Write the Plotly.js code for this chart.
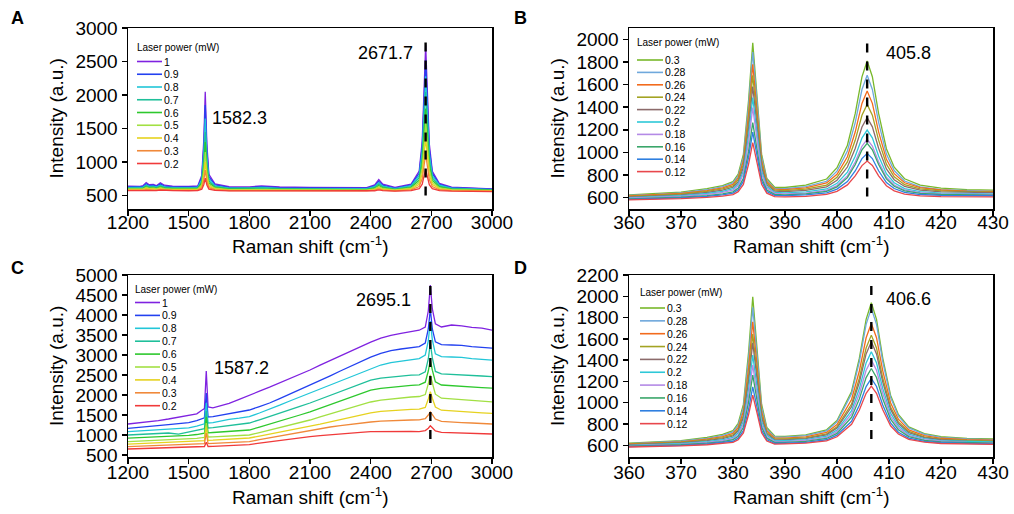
<!DOCTYPE html>
<html><head><meta charset="utf-8">
<script src="https://cdn.plot.ly/plotly-3.0.1.min.js"></script>
<style>html,body{margin:0;padding:0;background:#fff}#chart{width:1014px;height:514px}</style>
</head><body><div id="chart"></div>
<script>
// ---------------- DATA ----------------
const powersAC = ['1','0.9','0.8','0.7','0.6','0.5','0.4','0.3','0.2'];
const powersBD = ['0.3','0.28','0.26','0.24','0.22','0.2','0.18','0.16','0.14','0.12'];
const peakLabelsA = ['1582.3','2671.7'];
const peakLabelsB = ['405.8'];
const peakLabelsC = ['1587.2','2695.1'];
const peakLabelsD = ['406.6'];
const dashXA = 2671.7, dashXB = 405.8, dashXC = 2695.1, dashXD = 406.6;
const xTitle = 'Raman shift (cm<sup>-1</sup>)';
const yTitle = 'Intensity (a.u.)';
const legendTitle = 'Laser power (mW)';

const ticksXAC = [1200,1500,1800,2100,2400,2700,3000];
const ticksYA = [500,1000,1500,2000,2500,3000];
const ticksYC = [500,1000,1500,2000,2500,3000,3500,4000,4500,5000];
const ticksXBD = [360,370,380,390,400,410,420,430];
const ticksYB = [600,800,1000,1200,1400,1600,1800,2000];
const ticksYD = [600,800,1000,1200,1400,1600,1800,2000,2200];

// Panel A
const xA = [1200,1260,1275,1290,1305,1325,1340,1360,1380,1420,1500,1545,1565,1575,1582,1590,1600,1630,1700,1800,1860,1950,2100,2250,2380,2420,2440,2460,2520,2600,2640,2655,2665,2672,2680,2690,2705,2740,2800,2900,3000];
const A_1  = [640,638,650,695,662,668,648,690,655,640,636,645,802,1341,2050,1270,816,675,632,630,645,628,622,618,620,660,738,670,622,671,865,1314,2214,2750,2086,1271,863,681,626,608,600];
const A_09 = [630,628,638,675,650,655,638,672,642,629,626,634,769,1236,1850,1175,782,659,622,620,632,618,613,610,612,645,712,655,613,660,832,1234,2040,2520,1925,1196,831,668,619,602,595];
const A_08 = [620,618,627,658,637,641,627,655,630,619,616,623,737,1131,1650,1080,748,644,612,611,622,609,605,602,603,633,690,641,604,648,798,1152,1859,2280,1758,1118,798,655,612,596,590];
const A_07 = [615,613,620,648,630,633,620,645,623,613,610,616,709,1029,1450,987,717,633,606,605,615,603,599,596,597,623,672,630,598,635,765,1072,1685,2050,1597,1043,765,641,604,590,585];
const A_06 = [605,603,609,632,617,620,609,630,612,603,600,606,684,950,1300,915,691,621,597,596,604,594,591,588,589,610,650,617,590,622,731,986,1496,1800,1423,962,731,628,597,585,580];
const A_05 = [598,596,601,620,608,610,601,618,603,596,593,598,660,871,1150,844,665,610,590,589,596,588,585,582,583,600,633,606,584,610,699,909,1330,1580,1270,889,699,614,589,579,575];
const A_04 = [590,588,592,607,598,600,592,605,594,588,586,590,636,793,1000,772,640,598,583,582,588,581,578,576,577,590,616,594,578,598,667,830,1156,1350,1109,815,667,601,581,573,570];
const A_03 = [582,580,583,594,588,589,583,592,585,580,578,581,615,729,880,714,618,588,576,575,580,574,572,570,570,580,599,583,571,585,634,750,982,1120,949,739,634,587,573,567,565];
const A_02 = [575,573,575,582,578,579,575,581,576,573,572,574,595,666,760,657,596,578,570,569,572,568,567,565,565,572,585,574,566,573,602,671,808,890,789,664,602,574,566,562,560];

// Panel C
const xC = [1200,1250,1300,1350,1400,1450,1500,1540,1565,1578,1587,1596,1620,1660,1700,1750,1800,1850,1900,1950,2000,2050,2100,2150,2200,2250,2300,2350,2400,2450,2500,2550,2600,2640,2670,2685,2695,2705,2720,2750,2800,2850,2900,2950,3000];
const C_1  = [1275,1300,1335,1360,1400,1440,1480,1530,1620,1660,2600,1700,1680,1730,1790,1890,2000,2095,2195,2300,2405,2515,2625,2745,2860,2980,3100,3210,3320,3420,3490,3540,3585,3620,3700,4100,4750,4150,3780,3700,3750,3730,3690,3670,3620];
const C_09 = [1165,1185,1210,1235,1260,1285,1310,1360,1410,1430,2050,1450,1460,1500,1540,1580,1625,1710,1800,1910,2020,2135,2250,2365,2480,2600,2720,2830,2945,3040,3110,3150,3190,3210,3300,3650,4150,3650,3330,3260,3250,3240,3210,3190,3170];
const C_08 = [1085,1100,1115,1130,1150,1165,1180,1220,1260,1280,1800,1300,1310,1350,1390,1420,1460,1550,1640,1745,1850,1950,2050,2155,2260,2360,2460,2570,2670,2750,2810,2850,2880,2910,3000,3350,3850,3380,3030,2960,2950,2940,2910,2890,2870];
const C_07 = [1000,1012,1025,1040,1050,1020,1080,1110,1140,1160,1600,1175,1185,1210,1240,1270,1300,1380,1460,1545,1630,1715,1800,1895,1990,2085,2180,2280,2370,2420,2450,2475,2495,2505,2580,2900,3300,2930,2590,2530,2520,2505,2490,2475,2460];
const C_06 = [920,930,940,952,965,978,990,1012,1032,1045,1450,1055,1062,1075,1090,1108,1125,1198,1270,1345,1420,1500,1580,1670,1760,1850,1940,2035,2120,2165,2195,2220,2240,2255,2320,2600,2875,2620,2330,2250,2230,2215,2200,2185,2170];
const C_05 = [835,845,855,865,875,888,900,918,932,942,1300,950,955,965,975,988,1000,1060,1120,1185,1250,1312,1375,1452,1530,1605,1680,1755,1825,1870,1900,1925,1950,1962,2010,2280,2500,2300,2020,1920,1900,1880,1860,1845,1830];
const C_04 = [770,780,790,800,810,820,830,843,853,858,1200,866,870,880,890,908,925,972,1020,1065,1110,1160,1210,1270,1330,1390,1450,1505,1555,1590,1610,1625,1640,1645,1690,1900,2080,1920,1700,1620,1600,1585,1570,1555,1540];
const C_03 = [710,718,725,732,740,750,760,770,778,782,1050,786,790,798,805,820,835,882,930,975,1020,1070,1115,1160,1200,1235,1270,1300,1325,1345,1360,1368,1375,1378,1410,1500,1580,1510,1400,1340,1320,1310,1300,1288,1275];
const C_02 = [650,658,665,672,678,684,690,698,706,712,820,713,716,722,730,745,760,795,830,865,900,930,960,985,1010,1030,1050,1068,1082,1088,1090,1090,1088,1086,1110,1170,1230,1180,1100,1068,1060,1052,1045,1035,1025];

// Panel B
const xB = [360,365,370,375,378,380,381,382,383,383.8,384.6,385.5,386.5,388,390,394,398,400,402,403.5,404.8,405.8,406.8,408,409.5,411,413,416,420,425,430];
const B_030 = [625,635,650,680,707,742,809,983,1463,1970,1517,985,771,692,690,711,765,865,1064,1343,1668,1808,1669,1345,1033,870,767,711,684,671,667];
const B_028 = [620,628,643,670,697,730,793,956,1410,1888,1461,958,757,682,679,697,745,835,1013,1264,1556,1682,1557,1266,985,840,747,696,672,661,656];
const B_026 = [615,624,637,663,687,717,776,926,1341,1779,1387,928,743,675,671,686,730,807,962,1180,1433,1543,1434,1182,939,812,732,688,668,658,655];
const B_024 = [610,618,631,655,677,705,759,897,1279,1682,1322,899,729,666,662,675,712,780,916,1107,1329,1425,1330,1109,896,785,715,678,660,652,650];
const B_022 = [605,612,624,646,667,692,740,867,1214,1582,1254,869,715,658,653,664,696,754,871,1035,1225,1308,1226,1037,854,759,699,667,652,645,644];
const B_020 = [600,606,617,637,656,679,723,836,1152,1484,1188,838,698,647,642,651,677,727,826,966,1128,1198,1129,968,812,732,681,653,640,635,633];
const B_018 = [595,601,611,629,647,667,707,810,1095,1396,1128,812,685,639,634,641,664,707,793,915,1055,1116,1056,917,781,712,668,644,634,629,628];
const B_016 = [590,595,604,619,634,652,685,771,1011,1263,1039,773,667,629,625,634,656,696,777,891,1023,1080,1024,893,766,701,660,638,628,624,623];
const B_014 = [585,590,598,611,625,641,670,746,958,1180,982,748,655,620,618,624,642,676,742,836,945,992,946,838,734,681,647,628,621,618,617];
const B_012 = [580,584,591,602,613,627,653,717,897,1087,918,718,640,610,608,612,629,656,713,792,884,924,885,793,706,660,632,616,609,607,607];

// Panel D
const xD = [360,365,370,375,378,380,381,382,383,383.8,384.6,385.5,386.5,388,390,394,398,400,402.8,404.3,405.6,406.6,407.6,408.8,410.3,411.8,413.8,416.8,420,425,430];
const D_030 = [620,629,644,674,703,738,807,984,1477,1996,1533,986,768,687,683,698,745,832,1106,1418,1783,1939,1783,1420,1071,889,773,709,681,665,659];
const D_028 = [615,623,638,665,693,726,789,954,1413,1896,1465,956,753,678,676,690,736,820,1083,1385,1736,1886,1736,1387,1050,875,763,702,675,659,654];
const D_026 = [612,620,633,658,682,711,768,917,1327,1761,1374,918,737,669,667,680,721,795,1030,1298,1610,1745,1611,1300,1000,845,745,691,666,652,648];
const D_024 = [608,615,627,650,672,698,750,883,1254,1645,1295,885,721,660,659,669,708,774,987,1230,1514,1635,1514,1232,960,820,730,680,658,646,642];
const D_022 = [604,611,622,643,663,687,736,859,1202,1563,1240,860,709,652,651,663,698,762,962,1191,1458,1572,1459,1193,937,804,719,673,652,640,637];
const D_020 = [600,606,617,634,652,674,717,826,1128,1447,1163,827,693,644,643,653,686,743,925,1133,1374,1478,1375,1134,902,783,705,663,644,634,631];
const D_018 = [596,602,610,627,643,663,700,799,1068,1353,1098,800,680,636,635,646,675,728,895,1084,1305,1400,1305,1086,873,764,693,654,638,628,626];
const D_016 = [592,597,605,620,634,652,685,770,1009,1259,1035,771,667,627,628,637,664,712,863,1036,1236,1322,1237,1037,845,745,682,647,631,622,620];
const D_014 = [588,593,599,612,624,638,667,739,938,1149,962,740,651,619,619,628,652,695,826,977,1152,1228,1153,978,810,723,668,637,624,616,614];
const D_012 = [584,587,594,605,615,628,652,716,889,1071,908,717,640,611,613,620,642,680,798,931,1088,1155,1088,933,783,706,656,629,617,611,609];

// ---------------- STYLE / LAYOUT ----------------
const colorsAC = ['#7f22e0','#2341f0','#22c6d8','#1fbf9a','#2dc82d','#a2e043','#e6d21f','#f0893a','#f03a3a'];
const colorsBD = ['#78b82a','#6fa8dc','#f26b1d','#a3a323','#8c6b6b','#2ec8d8','#b48ae6','#3aa66a','#2f7fe0','#e8474c'];
const W = 1014, H = 514;
const FONT = 'Arial, "Liberation Sans", sans-serif';

const panels = [
  {letter:'A', xa:'x',  ya:'y',  px:[128,492], py:[28,209],  xs:xA, ys:[A_1,A_09,A_08,A_07,A_06,A_05,A_04,A_03,A_02], names:powersAC, colors:colorsAC,
   xr:[1200,3000], yr:[300,3000], xt:ticksXAC, yt:ticksYA, dash:{x:dashXA, y:[500,2860]},
   labels:[{t:peakLabelsA[0], x:210, y:118, a:'left'},{t:peakLabelsA[1], x:415, y:53, a:'right'}],
   leg:{l0:137,l1:162,tx:164,ty:47,y0:61.5,st:12.75}, lp:[17,18], xtY:245, ytX:56, tso:-9},
  {letter:'B', xa:'x2', ya:'y2', px:[629,993], py:[28,209],  xs:xB, ys:[B_030,B_028,B_026,B_024,B_022,B_020,B_018,B_016,B_014,B_012], names:powersBD, colors:colorsBD,
   xr:[360,430], yr:[500,2100], xt:ticksXBD, yt:ticksYB, dash:{x:dashXB, y:[610,2000]},
   labels:[{t:peakLabelsB[0], x:884, y:53, a:'left'}],
   leg:{l0:637,l1:663,tx:665,ty:42.5,y0:60,st:12.4}, lp:[520,18], xtY:245, ytX:557, tso:-9},
  {letter:'C', xa:'x3', ya:'y3', px:[128,492], py:[275,457], xs:xC, ys:[C_1,C_09,C_08,C_07,C_06,C_05,C_04,C_03,C_02], names:powersAC, colors:colorsAC,
   xr:[1200,3000], yr:[450,5000], xt:ticksXAC, yt:ticksYC, dash:{x:dashXC, y:[900,4800]},
   labels:[{t:peakLabelsC[0], x:212, y:368, a:'left'},{t:peakLabelsC[1], x:413, y:300, a:'right'}],
   leg:{l0:135,l1:160,tx:162,ty:289,y0:302.5,st:12.9}, lp:[17,268], xtY:496, ytX:56, tso:-7},
  {letter:'D', xa:'x4', ya:'y4', px:[629,993], py:[275,457], xs:xD, ys:[D_030,D_028,D_026,D_024,D_022,D_020,D_018,D_016,D_014,D_012], names:powersBD, colors:colorsBD,
   xr:[360,430], yr:[490,2200], xt:ticksXBD, yt:ticksYD, dash:{x:dashXD, y:[660,2140]},
   labels:[{t:peakLabelsD[0], x:884, y:299, a:'left'}],
   leg:{l0:640,l1:665,tx:667,ty:292,y0:308,st:12.85}, lp:[520,268], xtY:496, ytX:557, tso:-7}
];

const traces = [];
const layout = {
  width:W, height:H, margin:{l:0,r:0,t:0,b:0},
  paper_bgcolor:'#fff', plot_bgcolor:'#fff', showlegend:false,
  font:{family:FONT, color:'#000'}, annotations:[], shapes:[]
};
const PX = v => v / W, PY = v => 1 - v / H;

function mkAxis(dom, range, tickvals, anchor, so) {
  return {
    domain:dom, range:range, tickvals:tickvals, ticks:'outside', ticklen:5, tickwidth:1.5, tickcolor:'#000',
    linecolor:'#000', linewidth:1.5, mirror:true, showgrid:false, zeroline:false, anchor:anchor, fixedrange:true,
    ticklabelstandoff:so, tickfont:{size:19, family:FONT, color:'#000'}
  };
}
const txt = (x, y, text, size, xa, extra) => Object.assign({xref:'paper', yref:'paper', x:PX(x), y:PY(y), text:text,
  showarrow:false, xanchor:xa, yanchor:'middle', font:{size:size, family:FONT, color:'#000'}}, extra || {});

panels.forEach(p => {
  const xk = p.xa === 'x' ? 'xaxis' : 'xaxis' + p.xa.slice(1);
  const yk = p.ya === 'y' ? 'yaxis' : 'yaxis' + p.ya.slice(1);
  layout[xk] = mkAxis([PX(p.px[0]), PX(p.px[1])], p.xr, p.xt, p.ya, p.tso);
  layout[yk] = mkAxis([PY(p.py[1]), PY(p.py[0])], p.yr, p.yt, p.xa, 0);

  p.ys.forEach((y, i) => {
    traces.push({type:'scatter', mode:'lines', x:p.xs, y:y, name:p.names[i], xaxis:p.xa, yaxis:p.ya,
      line:{color:p.colors[i], width:1.3}, hoverinfo:'skip'});
  });

  // axis titles
  layout.annotations.push(txt((p.px[0]+p.px[1])/2, p.xtY, xTitle, 19, 'center'));
  layout.annotations.push(txt(p.ytX, (p.py[0]+p.py[1])/2, yTitle, 19, 'center', {textangle:-90}));

  // dashed peak marker
  layout.shapes.push({type:'line', xref:p.xa, yref:p.ya, x0:p.dash.x, x1:p.dash.x, y0:p.dash.y[0], y1:p.dash.y[1],
    line:{color:'#000', width:2.4, dash:'dash'}, layer:'above'});

  // peak labels
  p.labels.forEach(l => layout.annotations.push(txt(l.x, l.y, l.t, 18, l.a)));

  // panel letter
  layout.annotations.push(txt(p.lp[0], p.lp[1], '<b>'+p.letter+'</b>', 18, 'center'));

  // legend
  const L = p.leg;
  layout.annotations.push(txt(L.l0, L.ty, legendTitle, 10, 'left', {xshift:-2}));
  p.names.forEach((n, i) => {
    const yy = L.y0 + i * L.st;
    layout.shapes.push({type:'line', xref:'paper', yref:'paper', x0:PX(L.l0), x1:PX(L.l1), y0:PY(yy), y1:PY(yy),
      line:{color:p.colors[i], width:1.6}});
    layout.annotations.push(txt(L.tx, yy, n, 10.5, 'left', {xshift:-2}));
  });
});

Plotly.newPlot('chart', traces, layout, {displayModeBar:false, staticPlot:true});
</script>
</body></html>
